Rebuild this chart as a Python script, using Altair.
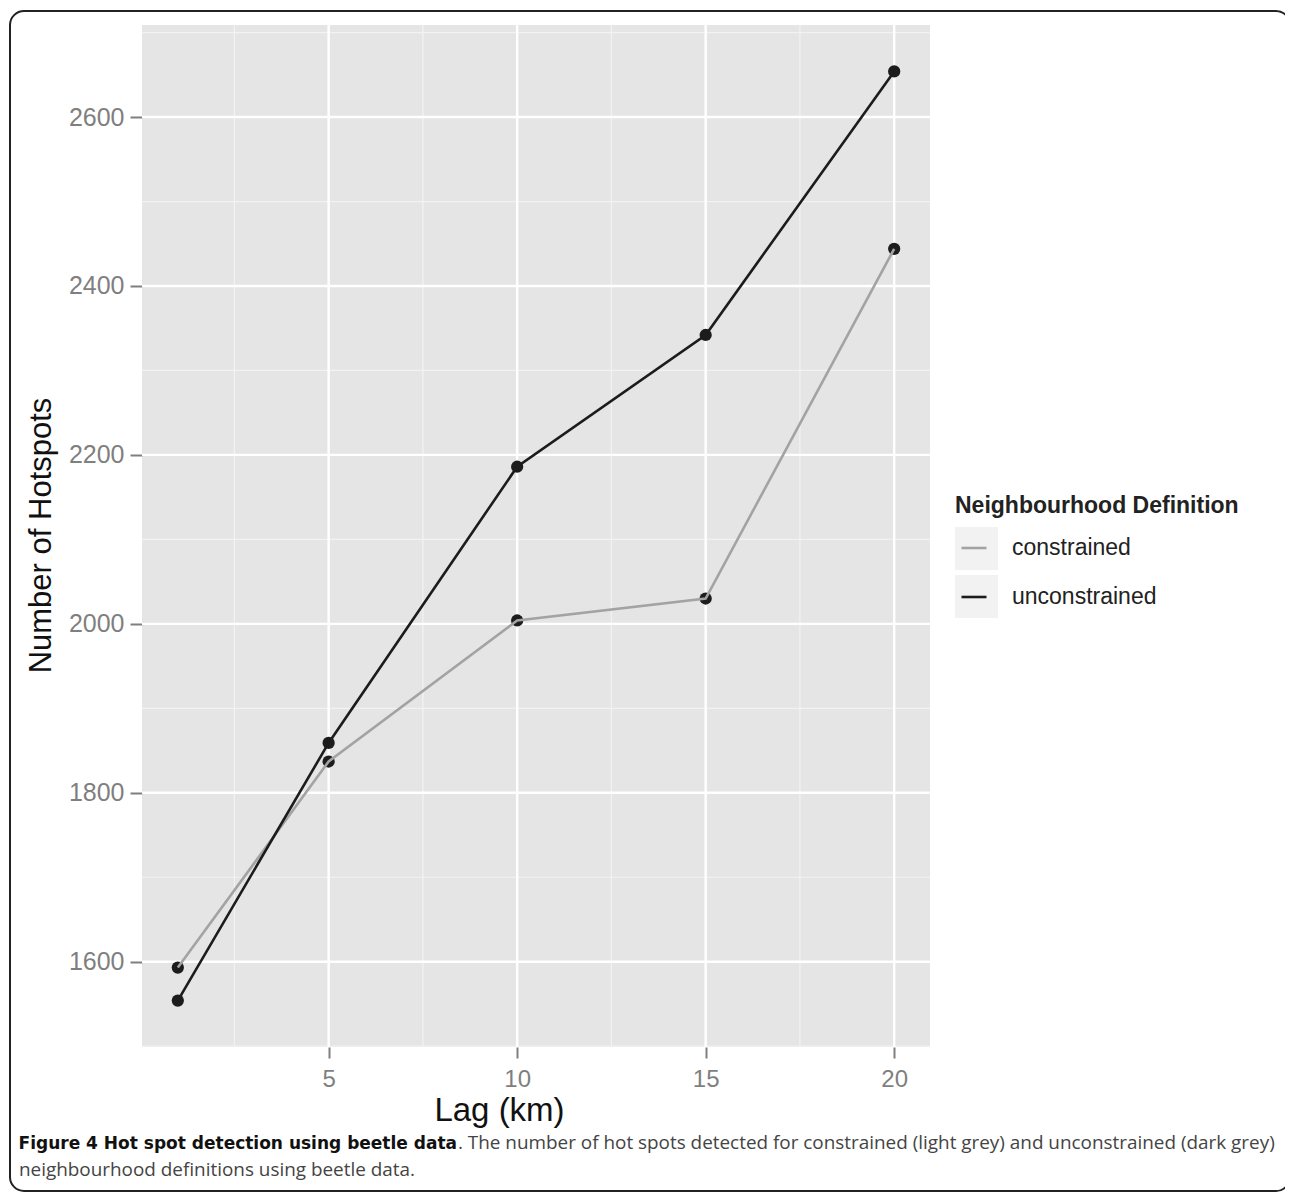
import altair as alt
import pandas as pd

lags = [1, 5, 10, 15, 20]
constrained = [1593, 1837, 2004, 2030, 2444]
unconstrained = [1554, 1859, 2186, 2342, 2654]
groups = ["constrained", "unconstrained"]
group_colors = ["#a3a3a3", "#1c1c1c"]

x_major = [5, 10, 15, 20]
x_minor = [2.5, 7.5, 12.5, 17.5]
y_major = [1600, 1800, 2000, 2200, 2400, 2600]
y_minor = [1500, 1700, 1900, 2100, 2300, 2500, 2700]

caption_bold = "Figure 4 Hot spot detection using beetle data"
caption_line1 = ". The number of hot spots detected for constrained (light grey) and unconstrained (dark grey)"
caption_line2 = "neighbourhood definitions using beetle data."

rows = []
for g, vals in zip(groups, [constrained, unconstrained]):
    for l, v in zip(lags, vals):
        rows.append({"lag": l, "hotspots": v, "group": g})
df = pd.DataFrame(rows)

W, H = 788, 1022
xs = alt.Scale(domain=[0.05, 20.95], nice=False, zero=False)
ys = alt.Scale(domain=[1499, 2709], nice=False, zero=False)

FONT = "Liberation Sans"
CAP_FONT = "Open Sans"

x_axis = alt.Axis(values=x_major, title="Lag (km)", labelFontSize=24, labelColor="#7f7f7f",
                  tickColor="#7f7f7f", tickSize=11, tickWidth=2, labelPadding=9,
                  domain=False, grid=False, titleFontSize=33, titleFontWeight="normal",
                  titleColor="#111", titleX=357, titleY=73, titleAlign="center",
                  titleBaseline="alphabetic", labelFont=FONT, titleFont=FONT)
y_axis = alt.Axis(values=y_major, format="d", title="Number of Hotspots", labelFontSize=25,
                  labelColor="#7f7f7f", tickColor="#7f7f7f", tickSize=12, tickWidth=2,
                  labelPadding=6, domain=False, grid=False, titleFontSize=31,
                  titleFontWeight="normal", titleColor="#111", titleX=-101, titleY=510,
                  titleAngle=270, titleAlign="center", titleBaseline="middle",
                  labelFont=FONT, titleFont=FONT)

grid_minor_x = alt.Chart(pd.DataFrame({"v": x_minor})).mark_rule(
    color="#f2f2f2", strokeWidth=1.2).encode(x=alt.X("v:Q", scale=xs, axis=x_axis))
grid_minor_y = alt.Chart(pd.DataFrame({"v": y_minor})).mark_rule(
    color="#f2f2f2", strokeWidth=1.2).encode(y=alt.Y("v:Q", scale=ys, axis=y_axis))
grid_major_x = alt.Chart(pd.DataFrame({"v": x_major})).mark_rule(
    color="white", strokeWidth=2.4).encode(x=alt.X("v:Q", scale=xs, axis=x_axis))
grid_major_y = alt.Chart(pd.DataFrame({"v": y_major})).mark_rule(
    color="white", strokeWidth=2.4).encode(y=alt.Y("v:Q", scale=ys, axis=y_axis))

base = alt.Chart(df).encode(
    x=alt.X("lag:Q", scale=xs, axis=x_axis),
    y=alt.Y("hotspots:Q", scale=ys, axis=y_axis),
)

lines = base.mark_line(strokeWidth=2.6).encode(
    color=alt.Color("group:N", scale=alt.Scale(domain=groups, range=group_colors),
                    legend=alt.Legend(title="Neighbourhood Definition", orient="none",
                                      legendX=813, legendY=470, symbolType="stroke",
                                      symbolSize=625, symbolStrokeWidth=2.6,
                                      symbolOffset=5, labelOffset=24, rowPadding=23,
                                      titleFontSize=23, titleFontWeight="bold",
                                      titleColor="#222", labelFontSize=23, labelColor="#222",
                                      titlePadding=16, padding=0, titleLimit=0, labelLimit=0,
                                      titleFont=FONT, labelFont=FONT)),
    detail="group:N",
)
points = base.mark_circle(size=150, color="#1c1c1c", opacity=1).encode(detail="group:N")

# legend key backgrounds
keys = alt.Chart(pd.DataFrame({"group": groups, "py": [502, 550]})).transform_calculate(
    py2="datum.py + 43").mark_rect(color="#f2f2f2").encode(
    x=alt.value(813), x2=alt.value(856),
    y=alt.Y("py:Q", scale=None), y2="py2:Q")

cap1 = alt.Chart(pd.DataFrame({"t": [caption_bold]})).mark_text(
    align="right", baseline="alphabetic", fontSize=17, fontWeight="bold", font="DejaVu Sans",
    color="#111").encode(x=alt.value(315), y=alt.value(1124), text="t:N")
cap2 = alt.Chart(pd.DataFrame({"t": [caption_line1]})).mark_text(
    align="left", baseline="alphabetic", fontSize=18.9, font=CAP_FONT,
    color="#444").encode(x=alt.value(316), y=alt.value(1124), text="t:N")
cap3 = alt.Chart(pd.DataFrame({"t": [caption_line2]})).mark_text(
    align="left", baseline="alphabetic", fontSize=18.9, font=CAP_FONT,
    color="#444").encode(x=alt.value(-123), y=alt.value(1151), text="t:N")

border = alt.Chart(pd.DataFrame({"a": [0]})).mark_rect(
    fill="transparent", stroke="#222", strokeWidth=2, cornerRadius=14).encode(
    x=alt.value(-132), x2=alt.value(1148), y=alt.value(-14), y2=alt.value(1166))

chart = alt.layer(
    grid_minor_x, grid_minor_y, grid_major_x, grid_major_y,
    keys, points, lines, cap1, cap2, cap3, border
).properties(
    width=W, height=H,
    autosize=alt.AutoSizeParams(type="none"),
    padding={"left": 134, "top": 17, "right": 355, "bottom": 148},
    background="white",
).configure_view(fill="#e5e5e5", stroke=None)

chart.save("out.html", embed_options={"renderer": "svg", "actions": False})
